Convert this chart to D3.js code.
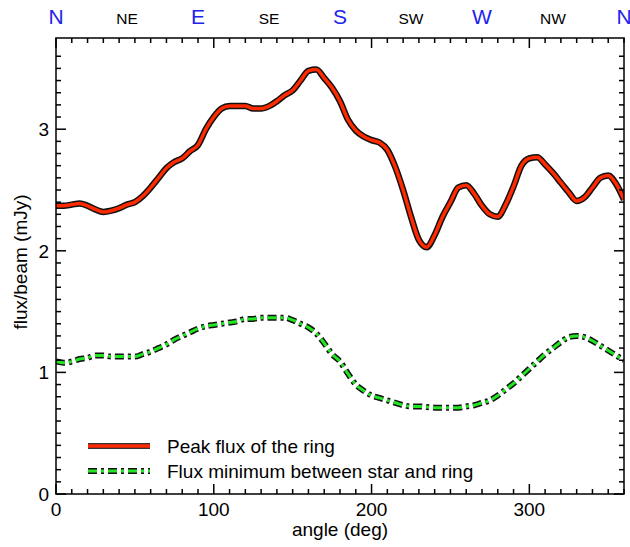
<!DOCTYPE html>
<html><head><meta charset="utf-8">
<script src="https://cdn.jsdelivr.net/npm/d3@7"></script>
<style>body{margin:0;background:#fff}svg{display:block}text{font-family:"Liberation Sans",Arial,Helvetica,sans-serif}</style>
</head><body>
<svg id="c" width="630" height="547"></svg>
<script>
const angles = d3.range(0, 361, 5);
const peakFlux = [2.37,2.37,2.38,2.39,2.37,2.34,2.32,2.33,2.35,2.38,2.40,2.45,2.52,2.60,2.68,2.73,2.76,2.82,2.87,3.00,
3.10,3.17,3.19,3.19,3.19,3.17,3.17,3.19,3.23,3.28,3.32,3.40,3.48,3.49,3.42,3.34,3.23,3.08,2.99,2.94,
2.91,2.89,2.83,2.69,2.50,2.28,2.09,2.03,2.13,2.28,2.40,2.52,2.54,2.47,2.37,2.30,2.28,2.38,2.53,2.70,
2.76,2.77,2.71,2.64,2.56,2.48,2.41,2.44,2.52,2.60,2.62,2.55,2.42];
const minFlux = [1.09,1.08,1.09,1.11,1.12,1.14,1.14,1.13,1.13,1.13,1.13,1.15,1.17,1.20,1.23,1.27,1.30,1.33,1.36,1.38,
1.39,1.40,1.41,1.42,1.44,1.44,1.45,1.45,1.45,1.45,1.43,1.40,1.37,1.32,1.24,1.15,1.09,0.99,0.90,0.85,
0.81,0.79,0.77,0.75,0.73,0.72,0.72,0.715,0.71,0.71,0.71,0.71,0.72,0.73,0.75,0.77,0.81,0.86,0.91,0.97,
1.03,1.09,1.15,1.20,1.25,1.29,1.30,1.29,1.26,1.22,1.18,1.14,1.10];
const compassLabels = ["N","NE","E","SE","S","SW","W","NW","N"];
const compassAngles = [0,45,90,135,180,225,270,315,360];
const xTicks = [0,100,200,300];
const yTicks = [0,1,2,3];
const seriesNames = ["Peak flux of the ring","Flux minimum between star and ring"];

const svg = d3.select("#c");
const L=56, R=624, T=38, B=494;
const x = d3.scaleLinear().domain([0,360]).range([L,R]);
const y = d3.scaleLinear().domain([0,3.75]).range([B,T]);

const curve = d3.curveMonotoneX;
const line = (vals)=> d3.line().x((d,i)=>x(angles[i])).y(d=>y(d)).curve(curve)(vals);

svg.append("clipPath").attr("id","clip").append("rect").attr("x",L).attr("y",T).attr("width",R-L).attr("height",B-T);
const pg = svg.append("g").attr("clip-path","url(#clip)");
pg.append("path").attr("d",line(peakFlux)).attr("fill","none").attr("stroke","#111").attr("stroke-width",6.5).attr("stroke-linejoin","round");
pg.append("path").attr("d",line(peakFlux)).attr("fill","none").attr("stroke","#ff2a00").attr("stroke-width",3.5).attr("stroke-linejoin","round");
const dash = "9,4,3,4";
pg.append("path").attr("d",line(minFlux)).attr("fill","none").attr("stroke","#111").attr("stroke-width",6).attr("stroke-dasharray",dash);
pg.append("path").attr("d",line(minFlux)).attr("fill","none").attr("stroke","#22e622").attr("stroke-width",3).attr("stroke-dasharray",dash);

const ax = svg.append("g").attr("stroke","#000").attr("stroke-width",1.5);
ax.append("rect").attr("x",L).attr("y",T).attr("width",R-L).attr("height",B-T).attr("fill","none");
d3.range(0,361,10).forEach(v=>{
  const major = v%100===0;
  const len = major?10:5;
  ax.append("line").attr("x1",x(v)).attr("x2",x(v)).attr("y1",B).attr("y2",B-len);
  ax.append("line").attr("x1",x(v)).attr("x2",x(v)).attr("y1",T).attr("y2",T+len);
});
d3.range(0,37).map(i=>i/10).forEach(v=>{
  const major = Math.abs(v-Math.round(v))<1e-9;
  const len = major?10:5;
  ax.append("line").attr("y1",y(v)).attr("y2",y(v)).attr("x1",L).attr("x2",L+len);
  ax.append("line").attr("y1",y(v)).attr("y2",y(v)).attr("x1",R).attr("x2",R-len);
});
const fs = 19;
xTicks.forEach(v=>svg.append("text").attr("x",x(v)).attr("y",B+22).attr("text-anchor","middle").attr("font-size",fs).text(v));
yTicks.forEach(v=>svg.append("text").attr("x",L-7).attr("y",y(v)+7).attr("text-anchor","end").attr("font-size",fs).text(v));
svg.append("text").attr("x",(L+R)/2).attr("y",B+42).attr("text-anchor","middle").attr("font-size",fs).text("angle (deg)");
svg.append("text").attr("transform",`translate(27,262) rotate(-90)`).attr("text-anchor","middle").attr("font-size",fs).text("flux/beam (mJy)");

compassLabels.forEach((t,i)=>{
  const main = t.length===1;
  svg.append("text").attr("x",x(compassAngles[i])).attr("y",24).attr("text-anchor","middle")
    .attr("font-size",main?21:15.5).attr("fill",main?"#2222ee":"#000").text(t);
});

const lx1=88, lx2=150;
const ly=[446,471];
svg.append("line").attr("x1",lx1).attr("x2",lx2).attr("y1",ly[0]).attr("y2",ly[0]).attr("stroke","#333").attr("stroke-width",6);
svg.append("line").attr("x1",lx1).attr("x2",lx2).attr("y1",ly[0]).attr("y2",ly[0]).attr("stroke","#ff2a00").attr("stroke-width",3.5);
svg.append("line").attr("x1",lx1).attr("x2",lx2).attr("y1",ly[1]).attr("y2",ly[1]).attr("stroke","#111").attr("stroke-width",6).attr("stroke-dasharray",dash);
svg.append("line").attr("x1",lx1).attr("x2",lx2).attr("y1",ly[1]).attr("y2",ly[1]).attr("stroke","#22e622").attr("stroke-width",3).attr("stroke-dasharray",dash);
seriesNames.forEach((t,i)=>svg.append("text").attr("x",167).attr("y",ly[i]+7).attr("font-size",fs).text(t));
</script>
</body></html>
